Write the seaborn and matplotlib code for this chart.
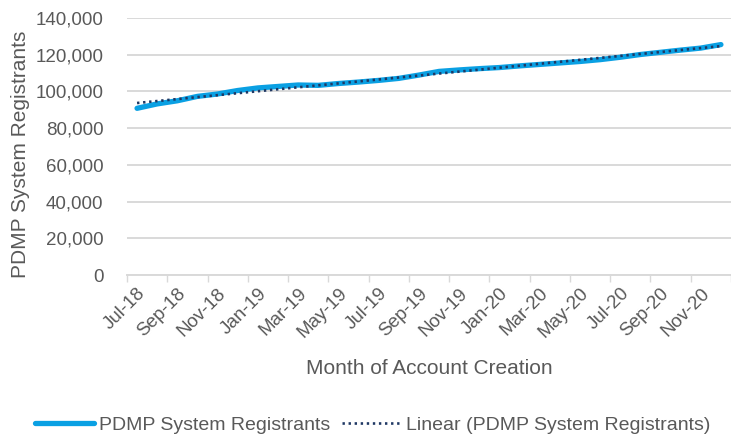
import numpy as np
import pandas as pd
import matplotlib
matplotlib.use("Agg")
import matplotlib.pyplot as plt
import seaborn as sns
from matplotlib.ticker import FixedLocator, FuncFormatter

months = ["Jul-18", "Aug-18", "Sep-18", "Oct-18", "Nov-18", "Dec-18",
          "Jan-19", "Feb-19", "Mar-19", "Apr-19", "May-19", "Jun-19",
          "Jul-19", "Aug-19", "Sep-19", "Oct-19", "Nov-19", "Dec-19",
          "Jan-20", "Feb-20", "Mar-20", "Apr-20", "May-20", "Jun-20",
          "Jul-20", "Aug-20", "Sep-20", "Oct-20", "Nov-20", "Dec-20"]
registrants = [90800, 93200, 94900, 97300, 98600, 100500,
               101900, 102700, 103500, 103300, 104300, 105100,
               106000, 107100, 108900, 110900, 111700, 112400,
               113000, 113900, 114700, 115500, 116300, 117300,
               118600, 120100, 121300, 122500, 123600, 125500]
y_ticks = [0, 20000, 40000, 60000, 80000, 100000, 120000, 140000]

series_name = "PDMP System Registrants"
trend_name = "Linear (PDMP System Registrants)"

df = pd.DataFrame({"idx": np.arange(len(months)), "value": registrants})
coef = np.polyfit(df["idx"], df["value"], 1)
df["trend"] = np.polyval(coef, df["idx"])

sns.set_theme(style="white")
plt.rcParams["font.family"] = ["Liberation Sans", "DejaVu Sans"]

text_gray = "#595959"
grid_gray = "#d9d9d9"

fig = plt.figure(figsize=(7.31, 4.38), dpi=100)
ax = fig.add_axes([0.1737, 0.372, 0.8263, 0.587])

sns.lineplot(data=df, x="idx", y="value", ax=ax, color="#0aa0e3",
             linewidth=3.8, label=series_name, solid_capstyle="round")
sns.lineplot(data=df, x="idx", y="trend", ax=ax, color="#1f3864",
             linewidth=1.9, linestyle=(0, (0.9, 1.4)), label=trend_name)

ax.set_xlim(-0.5, len(months) - 0.5)
ax.set_ylim(0, 140000)
ax.yaxis.set_major_locator(FixedLocator(y_ticks))
ax.yaxis.set_major_formatter(FuncFormatter(lambda v, p: f"{int(v):,}"))
ax.yaxis.grid(True, color=grid_gray, linewidth=1.4)
ax.set_axisbelow(True)

# boundary ticks every 2 months, labels at category centres
ax.xaxis.set_major_locator(FixedLocator(np.arange(-0.5, len(months), 2)))
ax.xaxis.set_major_formatter(FuncFormatter(lambda v, p: ""))
label_pos = np.arange(0, len(months), 2)
ax.xaxis.set_minor_locator(FixedLocator(label_pos))
ax.set_xticks(label_pos, [months[i] for i in label_pos], minor=True)
ax.tick_params(axis="x", which="major", length=5, width=1, color=grid_gray,
               direction="out", bottom=True)
ax.tick_params(axis="x", which="minor", length=0, pad=7, labelsize=13.5,
               labelcolor=text_gray)
for lbl in ax.get_xticklabels(minor=True):
    lbl.set_rotation(45)
    lbl.set_ha("right")
    lbl.set_va("top")
    lbl.set_rotation_mode("anchor")
ax.tick_params(axis="y", length=0, pad=17, labelsize=13.5, labelcolor=text_gray)

for s in ["left", "right", "top"]:
    ax.spines[s].set_visible(False)
ax.spines["bottom"].set_color(grid_gray)
ax.spines["bottom"].set_linewidth(1.4)

ax.set_xlabel("Month of Account Creation", fontsize=15, color=text_gray)
ax.xaxis.set_label_coords(0.5, -0.362)
ax.xaxis.label.set_va("center")
ax.set_ylabel("PDMP System Registrants", fontsize=15, color=text_gray)
ax.yaxis.set_label_coords((21 - 127) / 604, 0.47)
ax.yaxis.label.set_va("center")

ax.legend(loc="center", bbox_to_anchor=(373 / 731, 1 - 425 / 438),
          bbox_transform=fig.transFigure, ncol=2, frameon=False,
          fontsize=14, handlelength=3.0, handletextpad=0.3,
          columnspacing=0.6, labelcolor=text_gray)

fig.savefig("out.png", dpi=100)
